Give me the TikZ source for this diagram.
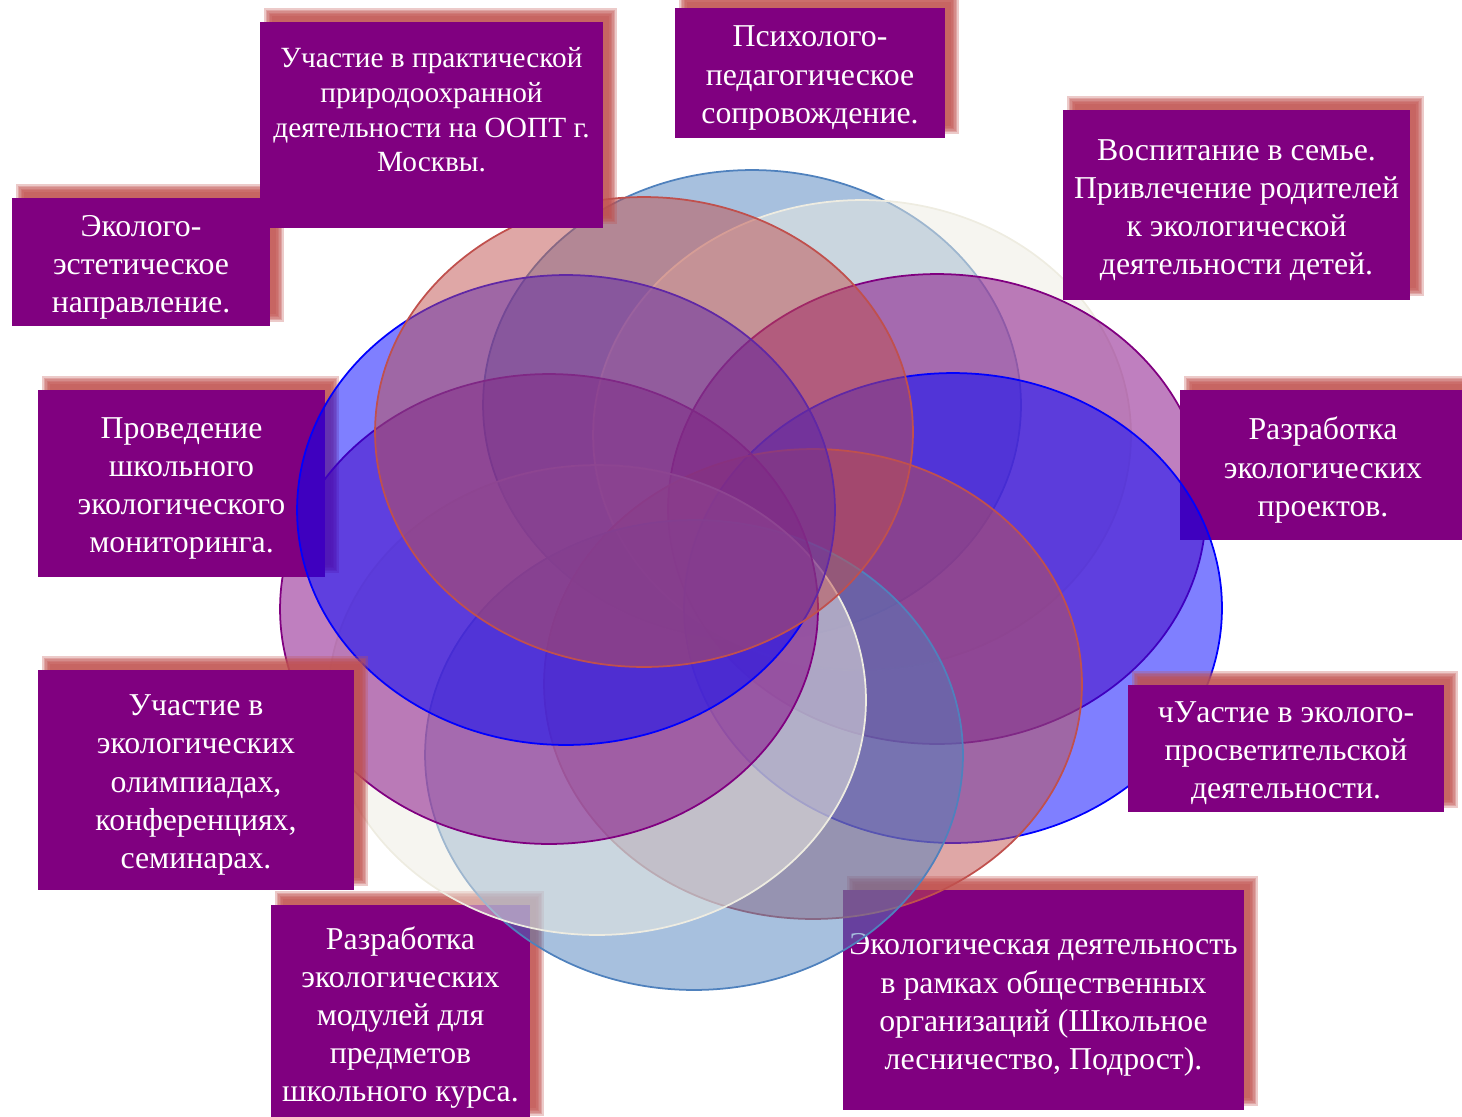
\documentclass[tikz,border=0pt]{standalone}
\usepackage{fontspec}
\setmainfont{Liberation Serif}
\usepackage{tikz}
\usetikzlibrary{shapes,positioning}

\definecolor{boxpurple}{HTML}{800080}
\definecolor{glowred}{HTML}{C0504D}
\definecolor{steel}{HTML}{4F81BD}
\definecolor{cream}{HTML}{EEECE1}
\definecolor{violet}{HTML}{800080}
\definecolor{pureblue}{HTML}{0000FF}
\definecolor{brick}{HTML}{C0504D}

\tikzset{
	panel/.style={fill=boxpurple, inner sep=0pt},
	caption/.style={text=white, inner sep=0pt, align=center,
		font=\fontsize{18.1}{21.7}\selectfont},
	glow/.style={fill=glowred, opacity=0.3},
	petal/.style={draw=#1, fill=#1, fill opacity=0.5, line width=1pt}
}

% box with its red glow: [text options] name, left, top, right, bottom, text
\newcommand{\topicbox}[7][]{%
	\foreach \k in {0,...,5}
		\fill [glow] (#3+4+\k*1.6, #4-14+\k*1.6) rectangle (#5+14-\k*1.6, #6-4-\k*1.6);
	\node [panel, minimum width={(#5-#3)*0.02cm}, minimum height={(#6-#4)*0.02cm}]
		(#2) at ({(#3+#5)/2}, {(#4+#6)/2}) {};
	\node [caption, #1] (#2-text) at ([yshift=-0.1cm]#2.center) {#7};
}

\begin{document}
\begin{tikzpicture}[x=0.02cm, y=-0.02cm]
	\useasboundingbox (0,0) rectangle (1462,1116);

	% boxes lying under the ellipses
	\topicbox{monit}{38}{390}{325}{577}{Проведение\\школьного\\экологического\\мониторинга.}
	\topicbox{proj}{1180}{390}{1466}{540}{Разработка\\экологических\\проектов.}
	\topicbox{modul}{271}{905}{530}{1120}{Разработка\\экологических\\модулей для\\предметов\\школьного курса.}
	\topicbox{org}{843}{890}{1244}{1110}{Экологическая деятельность\\в рамках общественных\\организаций (Школьное\\лесничество, Подрост).}

	% ring of ellipses
	\draw [petal=steel]    (752,405) ellipse [x radius=5.38cm, y radius=4.7cm];
	\draw [petal=cream]    (862,435) ellipse [x radius=5.38cm, y radius=4.7cm];
	\draw [petal=violet]   (937,509) ellipse [x radius=5.38cm, y radius=4.7cm];
	\draw [petal=pureblue] (953,608) ellipse [x radius=5.38cm, y radius=4.7cm];
	\draw [petal=brick]    (813,684) ellipse [x radius=5.38cm, y radius=4.7cm];
	\draw [petal=steel]    (694,755) ellipse [x radius=5.38cm, y radius=4.7cm];
	\draw [petal=cream]    (597,700) ellipse [x radius=5.38cm, y radius=4.7cm];
	\draw [petal=violet]   (549,609) ellipse [x radius=5.38cm, y radius=4.7cm];
	\draw [petal=pureblue] (566,510) ellipse [x radius=5.38cm, y radius=4.7cm];
	\draw [petal=brick]    (644,432) ellipse [x radius=5.38cm, y radius=4.7cm];

	% boxes lying over the ellipses
	\topicbox{aesth}{12}{198}{270}{326}{Эколого-\\эстетическое\\направление.}
	\topicbox[font=\fontsize{16.7}{19.8}\selectfont, yshift=0.06cm]{prakt}{260}{22}{603}{228}{Участие в практической\\природоохранной\\деятельности на ООПТ г.\\Москвы.\\\mbox{}}
	\topicbox{psych}{675}{8}{945}{138}{Психолого-\\педагогическое\\сопровождение.}
	\topicbox{family}{1063}{110}{1410}{300}{Воспитание в семье.\\Привлечение родителей\\к экологической\\деятельности детей.}
	\topicbox{olymp}{38}{670}{354}{890}{Участие в\\экологических\\олимпиадах,\\конференциях,\\семинарах.}
	\topicbox{educ}{1128}{685}{1444}{812}{чУастие в эколого-\\просветительской\\деятельности.}

\end{tikzpicture}
\end{document}
